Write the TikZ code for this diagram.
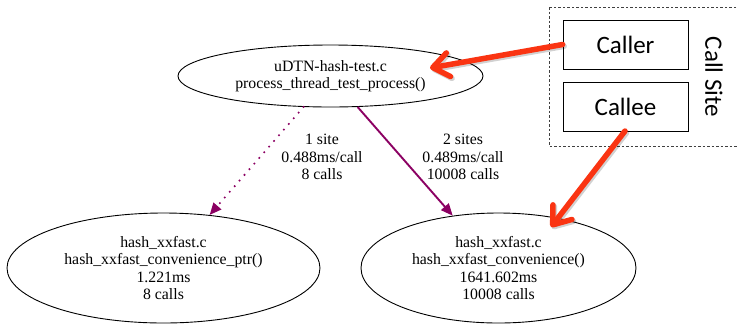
\documentclass[tikz,border=0pt]{standalone}
\usepackage{fontspec}
\setmainfont{Liberation Serif}
\newfontfamily\calibrifont{Carlito}
\usetikzlibrary{arrows.meta,shapes.geometric}

\definecolor{edgepurple}{RGB}{139,0,98}
\definecolor{callred}{RGB}{250,52,18}

\tikzset{
  fn/.style={ellipse, draw, line width=0.9pt, inner sep=0pt, align=center,
    font=\fontsize{15.8pt}{17.5pt}\selectfont},
  edgelabel/.style={align=center, font=\fontsize{15.8pt}{17.5pt}\selectfont},
  callarrow/.style={edgepurple, line width=1.9pt,
    -{Triangle[length=12pt,width=10pt]}},
  calldotted/.style={edgepurple, line width=2.3pt, line cap=round,
    dash pattern=on 0pt off 7.5pt, -{Triangle[length=12pt,width=10pt]}},
  legendbox/.style={draw, line width=0.7pt, minimum width=125pt, minimum height=49pt,
    inner sep=0pt, font=\calibrifont\fontsize{25pt}{28pt}\selectfont},
  pointer/.style={callred, line width=5.5pt, line cap=round,
    -{Straight Barb[length=16pt,width=24pt,round]}},
  pointershadow/.style={black, opacity=0.18, line width=5.5pt, line cap=round,
    -{Straight Barb[length=16pt,width=24pt,round]}}
}

\begin{document}
\begin{tikzpicture}[x=1pt,y=-1pt]
  \useasboundingbox (0,0) rectangle (738,325);

  % call graph nodes
  \node[fn, minimum width=305pt, minimum height=62pt] (top) at (330.5,76)
    {uDTN-hash-test.c\\process\_thread\_test\_process()};
  \node[fn, minimum width=313pt, minimum height=110pt] (ptr) at (163.5,268)
    {hash\_xxfast.c\\hash\_xxfast\_convenience\_ptr()\\1.221ms\\8 calls};
  \node[fn, minimum width=275pt, minimum height=110pt] (conv) at (498.5,268)
    {hash\_xxfast.c\\hash\_xxfast\_convenience()\\1641.602ms\\10008 calls};

  % call edges
  \draw[calldotted] (top) -- (ptr);
  \draw[callarrow] (top) -- (conv);
  \node[edgelabel] (lblptr) at (322,157) {1 site\\0.488ms/call\\8 calls};
  \node[edgelabel] (lblconv) at (463,157) {2 sites\\0.489ms/call\\10008 calls};

  % legend
  \begin{scope}
    \clip (0,0) rectangle (738,325);
    \draw[dash pattern=on 2.5pt off 2pt, line width=0.7pt, black!75]
      (549,7) rectangle (760,146);
  \end{scope}
  \node[legendbox] (caller) at (625.5,44.5) {Caller};
  \node[legendbox] (callee) at (625.5,106.5) {Callee};
  \node[rotate=-90, font=\calibrifont\fontsize{25pt}{28pt}\selectfont]
    (site) at (714,77) {Call Site};

  % pointers from the legend into the graph
  \coordinate (callertip) at (430,68);
  \coordinate (calleetip) at (551,227);
  \coordinate (calleefoot) at (625,131);
  \draw[pointershadow, transform canvas={shift={(1.5pt,-1.8pt)}}]
    (caller.west) -- (callertip);
  \draw[pointershadow, transform canvas={shift={(1.5pt,-1.8pt)}}]
    (calleefoot) -- (calleetip);
  \draw[pointer] (caller.west) -- (callertip);
  \draw[pointer] (calleefoot) -- (calleetip);
\end{tikzpicture}
\end{document}
